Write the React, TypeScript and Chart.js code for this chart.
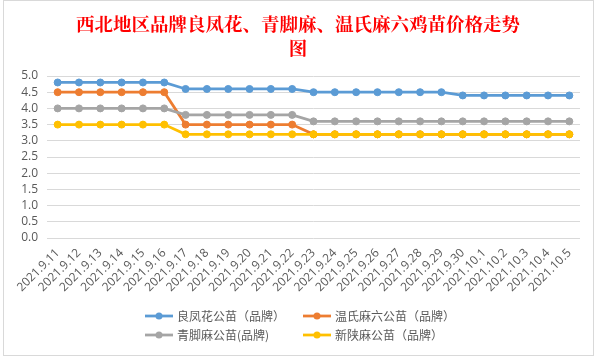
import React, { useEffect, useRef } from "react";
import { Chart, registerables } from "chart.js";

Chart.register(...registerables);

const titleLines = ["西北地区品牌良凤花、青脚麻、温氏麻六鸡苗价格走势", "图"];

const dates = [
  "2021.9.11", "2021.9.12", "2021.9.13", "2021.9.14", "2021.9.15", "2021.9.16",
  "2021.9.17", "2021.9.18", "2021.9.19", "2021.9.20", "2021.9.21", "2021.9.22",
  "2021.9.23", "2021.9.24", "2021.9.25", "2021.9.26", "2021.9.27", "2021.9.28",
  "2021.9.29", "2021.9.30", "2021.10.1", "2021.10.2", "2021.10.3", "2021.10.4",
  "2021.10.5",
];

const liangfenghua = [
  4.8, 4.8, 4.8, 4.8, 4.8, 4.8,
  4.6, 4.6, 4.6, 4.6, 4.6, 4.6,
  4.5, 4.5, 4.5, 4.5, 4.5, 4.5, 4.5,
  4.4, 4.4, 4.4, 4.4, 4.4, 4.4,
];
const wenshi = [
  4.5, 4.5, 4.5, 4.5, 4.5, 4.5,
  3.5, 3.5, 3.5, 3.5, 3.5, 3.5,
  3.2, 3.2, 3.2, 3.2, 3.2, 3.2, 3.2,
  3.2, 3.2, 3.2, 3.2, 3.2, 3.2,
];
const qingjiao = [
  4.0, 4.0, 4.0, 4.0, 4.0, 4.0,
  3.8, 3.8, 3.8, 3.8, 3.8, 3.8,
  3.6, 3.6, 3.6, 3.6, 3.6, 3.6, 3.6,
  3.6, 3.6, 3.6, 3.6, 3.6, 3.6,
];
const xinshan = [
  3.5, 3.5, 3.5, 3.5, 3.5, 3.5,
  3.2, 3.2, 3.2, 3.2, 3.2, 3.2,
  3.2, 3.2, 3.2, 3.2, 3.2, 3.2, 3.2,
  3.2, 3.2, 3.2, 3.2, 3.2, 3.2,
];

const seriesNames = ["良凤花公苗（品牌）", "温氏麻六公苗（品牌）", "青脚麻公苗(品牌)", "新陕麻公苗（品牌）"];
const seriesColors = ["#5B9BD5", "#ED7D31", "#A5A5A5", "#FFC000"];
const seriesData = [liangfenghua, wenshi, qingjiao, xinshan];
const drawOrder = [3, 2, 1, 0];

const TEXT_COLOR = "#595959";
const TICK_FONT = '"Open Sans", "Noto Sans CJK SC", sans-serif';

const decorPlugin = {
  id: "decor",
  beforeDraw(chart: any) {
    const ctx = chart.ctx;
    ctx.save();
    ctx.fillStyle = "#ffffff";
    ctx.fillRect(0, 0, chart.width, chart.height);
    ctx.restore();
  },
  afterDraw(chart: any) {
    const ctx = chart.ctx;
    ctx.save();
    // frame
    ctx.strokeStyle = "#d9d9d9";
    ctx.lineWidth = 1;
    ctx.strokeRect(3.5, 0.5, 590, 355);
    // title
    ctx.fillStyle = "#FF0000";
    ctx.font = 'bold 18.5px "Noto Serif CJK SC", "Noto Sans CJK SC", serif';
    ctx.textAlign = "center";
    ctx.textBaseline = "middle";
    ctx.fillText(titleLines[0], 298, 24);
    ctx.fillText(titleLines[1], 298, 48);
    // legend
    const cols = [145, 303];
    const rows = [316, 335];
    ctx.font = '12px "Noto Sans CJK SC", sans-serif';
    ctx.textAlign = "left";
    chart.data.datasets.forEach((ds: any, i: number) => {
      const x = cols[i % 2];
      const y = rows[Math.floor(i / 2)];
      ctx.strokeStyle = ds.borderColor;
      ctx.lineWidth = 2.75;
      ctx.beginPath();
      ctx.moveTo(x, y);
      ctx.lineTo(x + 28, y);
      ctx.stroke();
      ctx.fillStyle = ds.borderColor;
      ctx.beginPath();
      ctx.arc(x + 14, y, 3.5, 0, Math.PI * 2);
      ctx.fill();
      ctx.fillStyle = TEXT_COLOR;
      ctx.fillText(ds.label, x + 32, y);
    });
    ctx.restore();
  },
};

export default function App() {
  const ref = useRef<HTMLCanvasElement | null>(null);
  useEffect(() => {
    if (!ref.current) return;
    const chart = new Chart(ref.current, {
      type: "line",
      data: {
        labels: dates,
        datasets: seriesData.map((d, i) => ({
          label: seriesNames[i],
          data: d,
          borderColor: seriesColors[i],
          backgroundColor: seriesColors[i],
          pointBackgroundColor: seriesColors[i],
          pointBorderColor: seriesColors[i],
          borderWidth: 2.75,
          pointRadius: 3.5,
          pointBorderWidth: 1,
          tension: 0,
          order: drawOrder[i],
        })),
      },
      options: {
        responsive: false,
        animation: false,
        layout: { padding: { top: 76, left: 0, right: 17, bottom: 60 } },
        plugins: {
          legend: { display: false },
          title: { display: false },
          tooltip: { enabled: false },
        },
        scales: {
          x: {
            offset: true,
            grid: { display: false, drawTicks: false },
            border: { display: false },
            ticks: {
              color: TEXT_COLOR,
              font: { family: TICK_FONT, size: 12 },
              minRotation: 45,
              maxRotation: 45,
              autoSkip: false,
              padding: 8,
            },
            afterFit: (s: any) => {
              s.height = 60;
            },
          },
          y: {
            min: 0,
            max: 5,
            grid: { color: "#d9d9d9", drawTicks: false },
            border: { display: false },
            ticks: {
              stepSize: 0.5,
              autoSkip: false,
              color: TEXT_COLOR,
              font: { family: TICK_FONT, size: 12 },
              padding: 9,
              callback: (v: any) => Number(v).toFixed(1),
            },
            afterFit: (s: any) => {
              s.width = 47;
            },
          },
        },
      },
      plugins: [decorPlugin],
    });
    return () => chart.destroy();
  }, []);
  return (
    <div style={{ position: "absolute", left: 0, top: 0, width: 597, height: 358 }}>
      <canvas ref={ref} width={597} height={358} style={{ display: "block" }} />
    </div>
  );
}
